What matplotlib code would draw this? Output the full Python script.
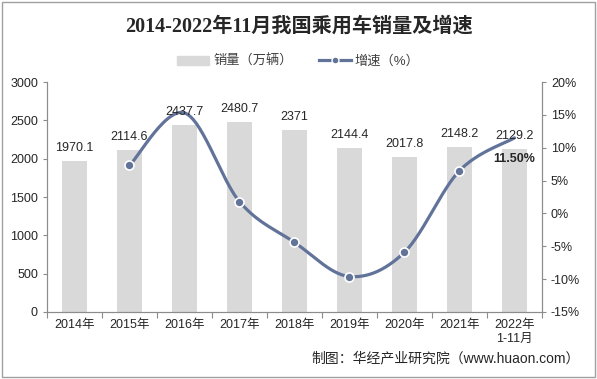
import numpy as np
import matplotlib.pyplot as plt
from matplotlib.lines import Line2D
from matplotlib.patches import Patch

plt.rcParams['font.family'] = ['Liberation Sans', 'Noto Sans CJK SC', 'DejaVu Sans']

# 数据
years = ['2014年', '2015年', '2016年', '2017年', '2018年', '2019年', '2020年', '2021年', '2022年\n1-11月']
sales = [1970.1, 2114.6, 2437.7, 2480.7, 2371, 2144.4, 2017.8, 2148.2, 2129.2]
growth = [None, 7.3, 15.3, 1.8, -4.4, -9.6, -5.9, 6.5, 11.5]

bar_color = '#D9D9D9'
line_color = '#62739A'
axis_color = '#8C8C8C'


def smooth(xs, ys, n=30):
    # curva suavizada tipo Excel (Catmull-Rom -> Bezier)
    xs = np.asarray(xs, float)
    ys = np.asarray(ys, float)
    px = np.concatenate([[xs[0]], xs, [xs[-1]]])
    py = np.concatenate([[ys[0]], ys, [ys[-1]]])
    out_x, out_y = [], []
    t = np.linspace(0, 1, n)
    for i in range(1, len(px) - 2):
        p0 = np.array([px[i], py[i]])
        p3 = np.array([px[i + 1], py[i + 1]])
        c1 = p0 + (np.array([px[i + 1], py[i + 1]]) - np.array([px[i - 1], py[i - 1]])) / 6
        c2 = p3 - (np.array([px[i + 2], py[i + 2]]) - np.array([px[i], py[i]])) / 6
        b = ((1 - t) ** 3)[:, None] * p0 + (3 * (1 - t) ** 2 * t)[:, None] * c1 \
            + (3 * (1 - t) * t ** 2)[:, None] * c2 + (t ** 3)[:, None] * p3
        out_x.extend(b[:, 0])
        out_y.extend(b[:, 1])
    return out_x, out_y


fig = plt.figure(figsize=(5.97, 3.79), dpi=100)
ax = fig.add_axes([0.0787, 0.1768, 0.8291, 0.6068])
x = np.arange(len(years))

ax.bar(x, sales, width=0.44, color=bar_color, zorder=1)

ax.set_xlim(-0.5, len(years) - 0.5)
ax.set_ylim(0, 3000)
ax.set_yticks(range(0, 3001, 500))
ax.set_xticks(np.arange(-0.5, len(years), 1))
ax.set_xticklabels([])
ax.set_xticks(x, minor=True)
ax.set_xticklabels(years, minor=True)
ax.tick_params(axis='x', which='major', length=4, color=axis_color)
ax.tick_params(axis='x', which='minor', length=0, labelsize=9, labelcolor='#262626', pad=5)
ax.tick_params(axis='y', length=3, color=axis_color, labelsize=9, labelcolor='#262626')
ax.spines['top'].set_visible(False)
for s in ['left', 'right', 'bottom']:
    ax.spines[s].set_color(axis_color)

ax2 = ax.twinx()
ax2.set_ylim(-15, 20)
ax2.set_yticks(range(-15, 21, 5))
ax2.set_yticklabels([f'{v}%' for v in range(-15, 21, 5)])
ax2.tick_params(axis='y', length=3, color=axis_color, labelsize=9, labelcolor='#262626')
ax2.spines['top'].set_visible(False)
for s in ['left', 'right', 'bottom']:
    ax2.spines[s].set_color(axis_color)

gx = [xi for xi, g in zip(x, growth) if g is not None]
gy = [g for g in growth if g is not None]
sx, sy = smooth(gx, gy)
ax2.plot(sx, sy, color=line_color, linewidth=2.3, solid_capstyle='round', zorder=3)
# el marcador de 2016 queda oculto en la original
mk = [i for i in range(len(gx) - 1) if gx[i] != 2]
ax2.plot([gx[i] for i in mk], [gy[i] for i in mk], 'o', color=line_color, markersize=6.5,
         markeredgecolor='white', markeredgewidth=1.2, zorder=4)
ax2.annotate(f'{gy[-1]:.2f}%', (gx[-1], gy[-1]), xytext=(0, -11), textcoords='offset points',
             ha='center', va='top', fontsize=9, fontweight='bold', color='#262626')

# etiquetas de ventas encima de la línea
for xi, v in zip(x, sales):
    ax2.annotate(f'{v:g}', (xi, v), xycoords=ax.transData, xytext=(0, 5),
                 textcoords='offset points', ha='center', va='bottom', fontsize=9,
                 color='#262626', zorder=5)

fig.text(0.5, 0.93, '2014-2022年11月我国乘用车销量及增速', ha='center', va='center',
         fontsize=14.5, fontweight='bold', color='#262626',
         family=['Liberation Serif', 'Noto Sans CJK SC'])

handles = [Patch(color=bar_color),
           Line2D([0], [0], color=line_color, linewidth=2.3, marker='o', markersize=5,
                  markeredgecolor='white')]
fig.legend(handles, ['销量（万辆）', '增速（%）'], loc='center', bbox_to_anchor=(0.5, 0.838),
           ncol=2, frameon=False, fontsize=9.5, handlelength=2.4, columnspacing=2.0,
           handletextpad=0.3, labelcolor='#404040')

fig.text(0.972, 0.055, '制图：华经产业研究院（www.huaon.com）', ha='right', va='center',
         fontsize=10, color='#262626')

# marco exterior
fig.patches.append(plt.Rectangle((0.004, 0.006), 0.992, 0.988, transform=fig.transFigure,
                                 fill=False, edgecolor='#A0A0A0', linewidth=1))

fig.savefig('out.png', dpi=100)
